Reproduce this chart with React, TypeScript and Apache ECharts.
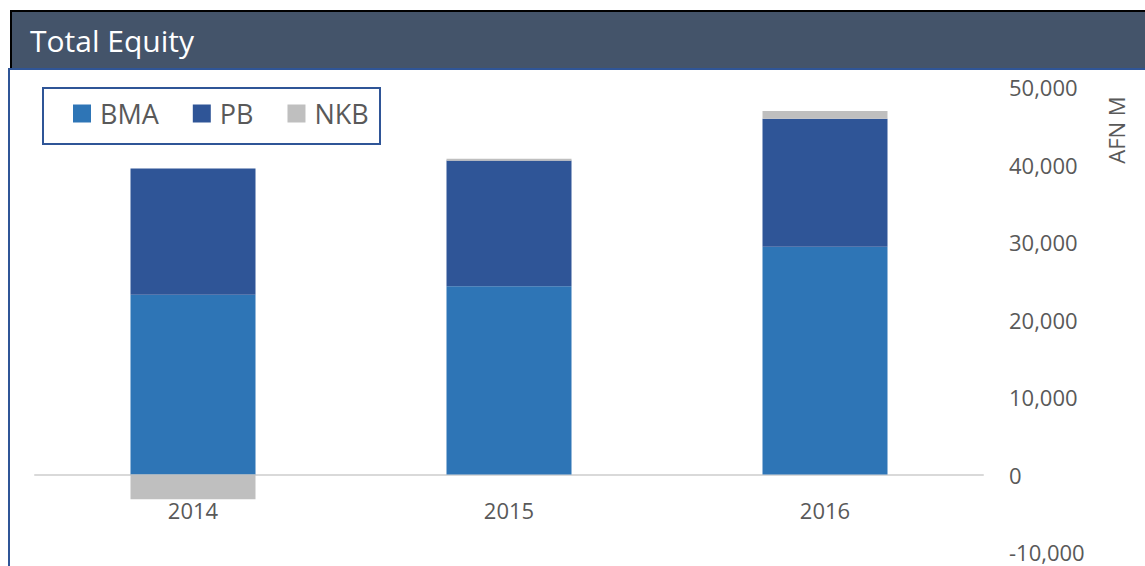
import React, { useEffect, useRef } from "react";
import * as echarts from "echarts";

const categories = ["2014", "2015", "2016"];
const bmaValues = [23200, 24300, 29400];
const pbValues = [16300, 16200, 16500];
const nkbValues = [-3200, 250, 1000];
const seriesNames = ["BMA", "PB", "NKB"];
const seriesColors = ["#2E75B6", "#2F5597", "#BFBFBF"];
const yMin = -10000;
const yMax = 50000;
const yInterval = 10000;
const chartTitle = "Total Equity";
const axisName = "AFN M";

const FONT = "'Open Sans', 'Noto Sans', sans-serif";
const TEXT_COLOR = "#595959";

export default function App() {
  const ref = useRef<HTMLDivElement>(null);
  useEffect(() => {
    document.body.style.margin = "0";
    if (!ref.current) return;
    const chart = echarts.init(ref.current, null, { renderer: "svg" });
    const values = [bmaValues, pbValues, nkbValues];
    chart.setOption({
      animation: false,
      backgroundColor: "#ffffff",
      textStyle: { fontFamily: FONT },
      grid: { left: 35, right: 162, top: 87, bottom: 14, containLabel: false, outerBoundsMode: "none" },
      legend: {
        data: seriesNames,
        left: 73,
        top: 100,
        itemWidth: 18,
        itemHeight: 18,
        itemGap: 34,
        icon: "rect",
        padding: 0,
        textStyle: { fontSize: 27, color: TEXT_COLOR, fontFamily: FONT, padding: [0, 0, 0, 4] },
      },
      xAxis: {
        type: "category",
        data: categories,
        axisLine: { onZero: true, lineStyle: { color: "#D9D9D9", width: 2 } },
        axisTick: { show: false },
        axisLabel: { fontSize: 22, color: TEXT_COLOR, margin: -53, fontFamily: FONT },
        splitLine: { show: false },
      },
      yAxis: {
        type: "value",
        position: "right",
        min: yMin,
        max: yMax,
        interval: yInterval,
        axisLine: { show: false },
        axisTick: { show: false },
        splitLine: { show: false },
        axisLabel: {
          fontSize: 22,
          color: TEXT_COLOR,
          margin: 26,
          fontFamily: FONT,
          formatter: (v: number) => v.toLocaleString("en-US"),
        },
      },
      series: seriesNames.map((name, i) => ({
        name,
        type: "bar",
        stack: "total",
        barWidth: 125,
        data: values[i],
        itemStyle: { color: seriesColors[i] },
      })),
      graphic: [
        { type: "rect", shape: { x: 10, y: 10, width: 1135, height: 58 }, style: { fill: "#44546A" } },
        { type: "rect", shape: { x: 10, y: 10, width: 1135, height: 2 }, style: { fill: "#000000" } },
        { type: "rect", shape: { x: 10, y: 10, width: 2, height: 58 }, style: { fill: "#000000" } },
        { type: "rect", shape: { x: 8, y: 68, width: 1137, height: 2 }, style: { fill: "#2F5597" } },
        { type: "rect", shape: { x: 8, y: 68, width: 2, height: 498 }, style: { fill: "#2F5597" } },
        {
          type: "text",
          x: 30,
          y: 40,
          style: {
            text: chartTitle,
            fontSize: 30,
            fontFamily: FONT,
            fill: "#FFFFFF",
            verticalAlign: "middle",
            align: "left",
          },
        },
        {
          type: "rect",
          shape: { x: 43, y: 88, width: 337, height: 56 },
          style: { fill: "none", stroke: "#2F5597", lineWidth: 2 },
        },
        {
          type: "text",
          x: 1116,
          y: 130,
          rotation: Math.PI / 2,
          style: {
            text: axisName,
            fontSize: 22,
            fontFamily: FONT,
            fill: TEXT_COLOR,
            align: "center",
            verticalAlign: "middle",
          },
        },
      ],
    });
    return () => chart.dispose();
  }, []);
  return <div ref={ref} style={{ width: 1145, height: 566 }} />;
}
